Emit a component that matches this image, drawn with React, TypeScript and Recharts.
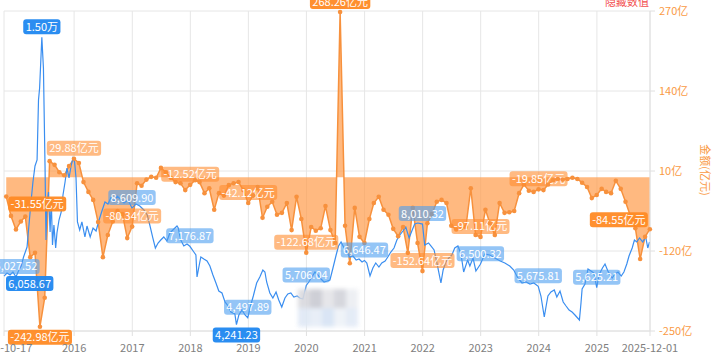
import React from "react";
import { ComposedChart, Line, Area, XAxis, YAxis, CartesianGrid } from "recharts";

const FONT = '"Noto Sans CJK SC", "Noto Sans", sans-serif';

// 指数点位（蓝线，左轴不显示）
const indexDates = [
  "2014-10-17", "2014-11-05", "2014-11-24", "2014-12-12", "2014-12-31",
  "2015-01-19", "2015-02-02", "2015-02-17", "2015-03-11", "2015-03-23", "2015-04-03", "2015-04-17", "2015-04-30",
  "2015-05-13", "2015-05-22", "2015-05-29", "2015-06-12", "2015-06-22", "2015-07-02", "2015-07-08", "2015-07-14",
  "2015-07-24", "2015-08-03", "2015-08-10", "2015-08-18", "2015-08-27", "2015-09-07", "2015-09-15", "2015-09-28",
  "2015-10-12", "2015-10-23", "2015-11-05", "2015-11-17", "2015-11-30", "2015-12-14", "2015-12-25",
  "2016-01-04", "2016-01-13", "2016-01-22", "2016-02-05", "2016-02-19", "2016-03-09", "2016-03-22", "2016-04-11",
  "2016-04-29", "2016-05-18", "2016-06-06", "2016-06-24", "2016-07-13", "2016-08-01", "2016-08-19", "2016-09-08",
  "2016-09-27", "2016-10-17", "2016-11-10", "2016-12-05", "2016-12-30",
  "2017-01-24", "2017-02-17", "2017-03-15", "2017-04-05", "2017-04-21", "2017-05-10", "2017-05-26", "2017-06-12",
  "2017-06-29", "2017-07-18", "2017-08-07", "2017-08-25", "2017-09-13", "2017-10-09", "2017-10-17", "2017-11-02",
  "2017-11-21", "2017-12-11", "2017-12-29",
  "2018-01-23", "2018-02-05", "2018-02-12", "2018-02-26", "2018-03-08", "2018-03-27", "2018-04-16", "2018-05-04",
  "2018-05-23", "2018-06-11", "2018-06-29", "2018-07-19", "2018-08-07", "2018-08-27", "2018-09-13", "2018-10-08",
  "2018-10-18", "2018-11-02", "2018-11-22", "2018-12-11", "2018-12-28",
  "2019-01-16", "2019-02-01", "2019-02-22", "2019-03-14", "2019-04-02", "2019-04-15", "2019-04-26", "2019-05-16",
  "2019-06-04", "2019-06-24", "2019-07-11", "2019-07-30", "2019-08-19", "2019-09-06", "2019-09-25", "2019-10-14",
  "2019-11-04", "2019-11-21", "2019-12-10", "2019-12-31",
  "2020-01-16", "2020-02-04", "2020-02-24", "2020-03-13", "2020-04-02", "2020-04-21", "2020-05-11", "2020-05-28",
  "2020-06-16", "2020-07-06", "2020-07-21", "2020-08-06", "2020-08-25", "2020-09-11", "2020-09-30", "2020-10-20",
  "2020-11-09", "2020-11-27", "2020-12-16", "2020-12-31",
  "2021-01-15", "2021-02-04", "2021-02-22", "2021-03-12", "2021-04-01", "2021-04-19", "2021-05-10", "2021-05-27",
  "2021-06-15", "2021-07-05", "2021-07-23", "2021-08-11", "2021-08-30", "2021-09-17", "2021-10-08", "2021-10-25",
  "2021-11-12", "2021-12-02", "2021-12-31",
  "2022-01-14", "2022-02-07", "2022-02-22", "2022-03-14", "2022-04-01", "2022-04-26", "2022-05-10", "2022-05-27",
  "2022-06-15", "2022-07-04", "2022-07-22", "2022-08-11", "2022-08-30", "2022-09-16", "2022-10-11", "2022-10-25",
  "2022-11-14", "2022-12-02", "2022-12-30",
  "2023-01-27", "2023-02-27", "2023-03-31", "2023-05-04", "2023-06-02", "2023-07-03", "2023-07-28", "2023-08-23",
  "2023-09-18", "2023-10-13", "2023-11-07", "2023-12-01", "2023-12-29",
  "2024-01-15", "2024-02-05", "2024-02-19", "2024-02-28", "2024-03-18", "2024-04-08", "2024-04-24", "2024-05-14",
  "2024-06-03", "2024-06-21", "2024-07-10", "2024-07-29", "2024-08-16", "2024-09-13", "2024-09-23", "2024-09-30",
  "2024-10-18", "2024-11-06", "2024-11-25", "2024-12-13", "2024-12-31",
  "2025-01-14", "2025-02-05", "2025-02-21", "2025-03-11", "2025-04-07", "2025-04-25", "2025-05-14", "2025-06-03",
  "2025-06-20", "2025-07-08", "2025-07-22", "2025-08-11", "2025-08-25", "2025-09-09", "2025-09-26", "2025-10-16",
  "2025-11-04", "2025-11-17", "2025-11-28",
];
const indexValues = [
  6058.67, 6175, 6100, 6212, 6027.52,
  6288, 6438, 6775, 7150, 7975, 8725, 9588, 10188,
  10412, 12662, 13112, 15012.4, 13862, 10225, 7412, 8725,
  9212, 7712, 8988, 7225, 7975, 7112, 7675, 8162,
  8462, 9100, 9588, 10112, 9738, 10225, 10488,
  10338, 9738, 8088, 7788, 8088, 7525, 7938, 7525,
  7862, 7750, 8162, 8500, 8838, 8762, 8988, 8838,
  9062, 8950, 8800, 8912, 8609.9,
  8762, 8688, 8538, 8350, 7975, 7488, 7112, 7300,
  7412, 7525, 7375, 7675, 7788, 7938, 7862, 7412,
  7188, 7262, 7176.87,
  6962, 6850, 6025, 6475, 6775, 6700, 6625, 6438,
  6100, 5800, 5500, 5425, 5088, 4938, 4712, 4638,
  4241.23, 4600, 4788, 4600, 4497.89,
  4975, 5312, 5800, 6025, 6288, 6212, 5838, 5425,
  5238, 5462, 5162, 4900, 5238, 5388, 5425, 5275,
  5312, 5238, 5200, 5706.04,
  5838, 6025, 6212, 6100, 5950, 5838, 5875, 5912,
  6362, 6850, 7188, 7338, 7112, 6962, 6775, 6812,
  6662, 6700, 6588, 6646.47,
  6550, 6062, 6362, 6550, 6400, 6550, 6625, 6775,
  6962, 7112, 7412, 7600, 7750, 7900, 7488, 7750,
  8012, 8050, 8010.32,
  7225, 7300, 7188, 7038, 6550, 5800, 6288, 6588,
  6738, 6850, 7112, 7188, 6888, 6212, 6662, 6438,
  6738, 6250, 6500.32,
  6888, 6850, 6738, 6625, 6550, 6438, 6288, 5988,
  5800, 5838, 5762, 5800, 5675.81,
  5312, 4525, 5012, 5312, 5462, 5538, 5275, 5500,
  5088, 4938, 4788, 4712, 4600, 4412, 5050, 5575,
  5762, 6325, 6250, 6175, 5625.21,
  6100, 6362, 6512, 6250, 5988, 6138, 6212, 6062,
  6212, 6512, 6812, 7112, 7412, 7338, 7488, 7338,
  7525, 7112, 7338,
];
const indexYearMarks = [
  "2014-12-31", "2016-12-30", "2017-12-29", "2018-12-28", "2019-12-31",
  "2020-12-31", "2021-12-31", "2022-12-30", "2023-12-29", "2024-12-31",
];

// 月度资金净额（橙色面积，右轴，亿元）
const flowMonths = [
  "2014-10", "2014-11", "2014-12",
  "2015-01", "2015-02", "2015-03", "2015-04", "2015-05", "2015-06", "2015-07", "2015-08", "2015-09", "2015-10", "2015-11", "2015-12",
  "2016-01", "2016-02", "2016-03", "2016-04", "2016-05", "2016-06", "2016-07", "2016-08", "2016-09", "2016-10", "2016-11", "2016-12",
  "2017-01", "2017-02", "2017-03", "2017-04", "2017-05", "2017-06", "2017-07", "2017-08", "2017-09", "2017-10", "2017-11", "2017-12",
  "2018-01", "2018-02", "2018-03", "2018-04", "2018-05", "2018-06", "2018-07", "2018-08", "2018-09", "2018-10", "2018-11", "2018-12",
  "2019-01", "2019-02", "2019-03", "2019-04", "2019-05", "2019-06", "2019-07", "2019-08", "2019-09", "2019-10", "2019-11", "2019-12",
  "2020-01", "2020-02", "2020-03", "2020-04", "2020-05", "2020-06", "2020-07", "2020-08", "2020-09", "2020-10", "2020-11", "2020-12",
  "2021-01", "2021-02", "2021-03", "2021-04", "2021-05", "2021-06", "2021-07", "2021-08", "2021-09", "2021-10", "2021-11", "2021-12",
  "2022-01", "2022-02", "2022-03", "2022-04", "2022-05", "2022-06", "2022-07", "2022-08", "2022-09", "2022-10", "2022-11", "2022-12",
  "2023-01", "2023-02", "2023-03", "2023-04", "2023-05", "2023-06", "2023-07", "2023-08", "2023-09", "2023-10", "2023-11", "2023-12",
  "2024-01", "2024-02", "2024-03", "2024-04", "2024-05", "2024-06", "2024-07", "2024-08", "2024-09", "2024-10", "2024-11", "2024-12",
  "2025-01", "2025-02", "2025-03", "2025-04", "2025-05", "2025-06", "2025-07", "2025-08", "2025-09", "2025-10", "2025-11",
];
const flowValues = [
  -31.55, -63, -85,
  -72, -64, -130, -123, -242.98, -196, 26, 20, 8, 3, 18, 29.88,
  23, -8, -24, -37, -73, -130, -94, -72, -55, -60, -99, -80.34,
  -10, -14, -4, 0.5, -1, 15, 8, -1, -8, -10, -21, -12.52,
  -5, -8, -26, -18, -53, -26, -30, -13, -10, -8, -21, -42.12,
  -30, -16, -66, -48, -40, -61, -58, -42, -86, -32, -68, -122.68,
  -81, -87, -83, -47, -86, -107, 268.26, -79, -140, -50, -97, -107,
  -68, -42, -32, -53, -61, -84, -96, -81, -123, -50, -107, -152.64,
  -75, -60, -40, -37, -42, -79, -85, -83, -81, -18, -94, -97.11,
  -53, -75, -94, -42, -58, -57, -55, -26, -12, -22, -24, -19.85,
  -21, -12, -5, -3, -4, -3, -1, -3, -9, -16, -34, -29,
  -19, -24, -26, -6, -19, -40, -63, -83, -133, -97, -84.55,
];
const flowYearMarks = ["2015-12", "2016-12", "2017-12", "2018-12", "2019-12", "2021-12", "2022-12", "2023-12"];

const axisDates = [
  "2014-10-17", "2016-01-01", "2017-01-01", "2018-01-01", "2019-01-01", "2020-01-01",
  "2021-01-01", "2022-01-01", "2023-01-01", "2024-01-01", "2025-01-01", "2025-12-01",
];
const flowTicks = [-250, -120, 10, 140, 270];

const day = (d: string) => Date.parse(d);
const monthEnd = (m: string) => {
  const [y, mo] = m.split("-").map(Number);
  return Date.UTC(y, mo, 0);
};

function tagFor(values: number[], i: number, marked: boolean, withLast: boolean) {
  if (i === 0) return "first";
  if (withLast && i === values.length - 1) return "last";
  if (values[i] === Math.max(...values)) return "max";
  if (values[i] === Math.min(...values)) return "min";
  return marked ? "year" : "";
}

const indexData = indexDates.map((d, i) => ({
  t: day(d),
  v: indexValues[i],
  tag: tagFor(indexValues, i, indexYearMarks.includes(d), false),
}));
const flowData = flowMonths.map((m, i) => ({
  t: monthEnd(m),
  v: flowValues[i],
  tag: tagFor(flowValues, i, flowYearMarks.includes(m), true),
}));

const tickTs = axisDates.map(day);
const T0 = tickTs[0];
const T1 = tickTs[tickTs.length - 1];

const fmtIndex = (v: number) =>
  v >= 10000
    ? `${(v / 10000).toFixed(2)}万`
    : v.toLocaleString("en-US", { minimumFractionDigits: 2, maximumFractionDigits: 2 });
const fmtFlow = (v: number) => `${v.toFixed(2)}亿元`;

const textW = (s: string) =>
  [...s].reduce((w, c) => w + (/[0-9]/.test(c) ? 6.1 : /[.,]/.test(c) ? 2.9 : c === "-" ? 3.7 : 11), 0);

const ORANGE = { light: "#ff8c2e", dark: "#ff8a24" };
const BLUE = { light: "#4d9ff0", dark: "#1f87f0" };

function Badge({ cx, cy, text, kind, color }: any) {
  const w = textW(text) + 5;
  const h = 15;
  let bx = cx - w / 2;
  let by = cy - 18;
  if (kind === "min") by = cy + 3;
  if (kind === "first") {
    bx = cx + 2;
    by = cy;
  }
  if (kind === "last") {
    bx = cx - w - 2;
    by = cy - 17;
  }
  const dark = kind !== "year";
  return (
    <g>
      <rect x={bx} y={by} width={w} height={h} rx={3} fill={dark ? color.dark : color.light} fillOpacity={dark ? 0.95 : 0.6} />
      <text x={bx + w / 2} y={by + h / 2} dy="0.36em" textAnchor="middle" fontSize={11} fill="#fff" fontFamily={FONT}>
        {text}
      </text>
    </g>
  );
}

const flowDot = (p: any) => (
  <g key={`f-${p.index}`}>
    <circle cx={p.cx} cy={p.cy} r={2.3} fill="#f7913d" />
    {p.payload.tag ? <Badge cx={p.cx} cy={p.cy} kind={p.payload.tag} text={fmtFlow(p.payload.v)} color={ORANGE} /> : null}
  </g>
);

const indexDot = (p: any) =>
  p.payload.tag ? (
    <g key={`i-${p.index}`}>
      <Badge cx={p.cx} cy={p.cy} kind={p.payload.tag} text={fmtIndex(p.payload.v)} color={BLUE} />
    </g>
  ) : (
    <g key={`i-${p.index}`} />
  );

const fmtDate = (t: number) => {
  if (t === T0 || t === T1) return new Date(t).toISOString().slice(0, 10);
  return String(new Date(t).getUTCFullYear());
};

const mosaic = ["#d9d9de", "#c9cad2", "#e4e4e8", "#d2d3da", "#eceef2", "#dfe8f5", "#e6edf7", "#d6e3f4", "#eef2f8", "#e2eaf6"];

const App = () => {
  return (
    <div style={{ position: "absolute", left: 0, top: 0, width: 718, height: 360, overflow: "hidden", fontFamily: FONT }}>
      <ComposedChart width={718} height={360} margin={{ top: 11, right: 0, bottom: 0, left: 4 }}>
        <CartesianGrid yAxisId="flow" stroke="#e6e6e6" />
        <XAxis
          dataKey="t"
          type="number"
          domain={[T0, T1]}
          ticks={tickTs}
          interval={0}
          tickFormatter={fmtDate}
          height={29}
          tickSize={5}
          tickMargin={8}
          tick={{ fill: "#808080", fontSize: 11, fontFamily: FONT }}
          axisLine={{ stroke: "#e0e0e0" }}
          tickLine={{ stroke: "#e0e0e0" }}
        />
        <YAxis yAxisId="index" hide domain={[4000, 16000]} />
        <YAxis
          yAxisId="flow"
          orientation="right"
          width={68}
          domain={[-250, 270]}
          ticks={flowTicks}
          interval={0}
          tickFormatter={(v: number) => `${v}亿`}
          tickSize={5}
          tickMargin={4}
          tick={{ fill: "#fa9a45", fontSize: 11, fontFamily: FONT }}
          axisLine={{ stroke: "#e0e0e0" }}
          tickLine={{ stroke: "#e0e0e0" }}
        />
        <Area
          yAxisId="flow"
          data={flowData}
          dataKey="v"
          type="linear"
          baseValue={0}
          stroke="#f7913d"
          strokeWidth={1.5}
          fill="#ff9b4a"
          fillOpacity={0.7}
          dot={flowDot}
          activeDot={false}
          isAnimationActive={false}
        />
        <Line
          yAxisId="index"
          data={indexData}
          dataKey="v"
          type="linear"
          stroke="#3a8ef0"
          strokeWidth={1.2}
          dot={indexDot}
          activeDot={false}
          isAnimationActive={false}
        />
      </ComposedChart>
      <div
        style={{
          position: "absolute",
          left: 298,
          top: 289,
          width: 60,
          height: 38,
          display: "flex",
          flexWrap: "wrap",
          filter: "blur(2px)",
          opacity: 0.9,
        }}
      >
        {mosaic.map((c, i) => (
          <div key={i} style={{ width: 12, height: 19, background: c }} />
        ))}
      </div>
      <div style={{ position: "absolute", left: 605, top: -6, fontSize: 11, lineHeight: "14px", color: "#f24d4d" }}>隐藏数值</div>
      <div
        style={{
          position: "absolute",
          left: 706,
          top: 170,
          fontSize: 11,
          color: "#fa9a45",
          whiteSpace: "nowrap",
          transform: "translate(-50%, -50%) rotate(90deg)",
        }}
      >
        金额(亿元)
      </div>
    </div>
  );
};

export default App;
